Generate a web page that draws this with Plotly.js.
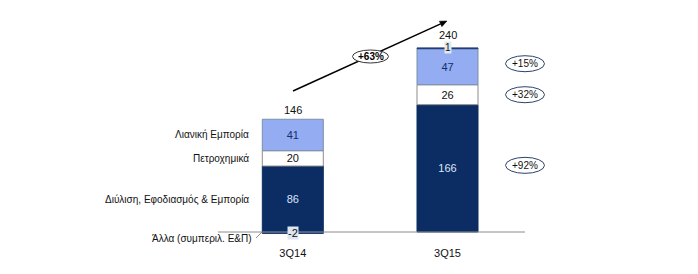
<!DOCTYPE html>
<html><head><meta charset="utf-8">
<script src="https://cdn.plot.ly/plotly-3.0.1.min.js"></script>
<style>body{margin:0;background:#fff}#c{width:698px;height:274px}</style>
</head><body><div id="c"></div>
<script>
const periods = ['3Q14', '3Q15'];
const segments = ['Διύλιση, Εφοδιασμός & Εμπορία', 'Πετροχημικά', 'Λιανική Εμπορία', 'Άλλα (συμπεριλ. Ε&Π)'];
const refining = [86, 166];
const petchem = [20, 26];
const retail = [41, 47];
const other = [-2, 1];
const totals = ['146', '240'];
const growthLabels = ['+92%', '+32%', '+15%'];
const totalGrowth = '+63%';

const FONT = 'Liberation Sans, Arial, sans-serif';
const navy = '#0b2d63';
const light = '#93acf2';
const W = 698, H = 274;
const mB = 29, plotH = H - mB;
const base = 232, ppu = 0.767;
const c0 = 292.8, c1 = 447.5, ppx = c1 - c0;
const yr = [-(plotH - base) / ppu, base / ppu];
const xr = [-c0 / ppx, (W - c0) / ppx];
const px = x => x / W, py = y => 1 - y / plotH;

function bar(name, y, color, txtColor, lineColor) {
  return {
    type: 'bar', x: periods, y: y, name: name, width: 61 / ppx,
    marker: {color: color, line: {color: lineColor, width: 1}},
    text: y.map(String), textposition: 'inside', insidetextanchor: 'middle',
    constraintext: 'none', textfont: {family: FONT, size: 11, color: txtColor},
    hoverinfo: 'none'
  };
}
const traces = [
  bar(segments[0], refining, navy, '#dbe6fb', navy),
  bar(segments[1], petchem, '#ffffff', '#111111', '#8c8c8c'),
  bar(segments[2], retail, light, '#14306a', '#7d8ea8'),
  Object.assign(bar(segments[3], other, '#1d3c72', '#000', '#1d3c72'), {text: ['', ''], textposition: 'none'})
];

const annotations = [];
const shapes = [];
function ann(o) { annotations.push(Object.assign({showarrow: false, xanchor: 'center', yanchor: 'middle'}, o)); }
// totals
periods.forEach((p, i) => {
  const top = refining[i] + petchem[i] + retail[i] + Math.max(other[i], 0);
  ann({x: p, y: top, text: totals[i], yanchor: 'bottom', yshift: i === 0 ? 1 : 5,
    font: {family: FONT, size: 11, color: '#111'}});
});
// "other" labels in small boxes
ann({x: periods[0], y: other[0], text: String(other[0]), yshift: 1,
  bgcolor: '#dde5f1', borderpad: 0, font: {family: FONT, size: 11, color: '#111'}});
ann({x: periods[1], y: refining[1] + petchem[1] + retail[1] + other[1], text: String(other[1]),
  bgcolor: '#e3e8ef', borderpad: 0, font: {family: FONT, size: 10, color: '#111'}});
// left category labels at 3Q14 segment midpoints
const mids0 = [refining[0] / 2, refining[0] + petchem[0] / 2, refining[0] + petchem[0] + retail[0] / 2];
[0, 1, 2].forEach(k => {
  ann({xref: 'paper', x: px(251), y: mids0[k], text: segments[k], xanchor: 'right',
    font: {family: FONT, size: 10, color: '#111'}});
});
ann({xref: 'paper', x: px(254), y: other[0], text: segments[3], xanchor: 'right', yshift: -5,
  font: {family: FONT, size: 10, color: '#111'}});
// growth ellipses right of 3Q15
const mids1 = [refining[1] / 2, refining[1] + petchem[1] / 2, refining[1] + petchem[1] + retail[1] / 2];
const gShift = [3, 0, 3];
[0, 1, 2].forEach(k => {
  ann({xref: 'paper', x: px(525), y: mids1[k], yshift: gShift[k], text: growthLabels[k],
    font: {family: FONT, size: 10, color: '#111'}});
  shapes.push({type: 'circle', xref: 'paper', yref: 'y', xsizemode: 'pixel', ysizemode: 'pixel',
    xanchor: px(525), yanchor: mids1[k], x0: -19.5, x1: 19.5, y0: -8 + gShift[k], y1: 8 + gShift[k],
    line: {color: '#2b4270', width: 1}, fillcolor: 'rgba(0,0,0,0)'});
});
// overall growth arrow (line + head), with ellipse on top
const A = [293, 91], B = [447, 21];
const dx = B[0] - A[0], dy = B[1] - A[1], L = Math.hypot(dx, dy);
const ux = dx / L, uy = dy / L, nx = -uy, ny = ux, hl = 7, hw = 3;
const bx = B[0] - hl * ux, by = B[1] - hl * uy;
shapes.push({type: 'line', xref: 'paper', yref: 'paper', x0: px(A[0]), y0: py(A[1]), x1: px(bx), y1: py(by),
  line: {color: '#000', width: 1.5}, layer: 'above'});
shapes.push({type: 'path', xref: 'paper', yref: 'paper', layer: 'above', fillcolor: '#000', line: {color: '#000', width: 0.5},
  path: `M${px(B[0])},${py(B[1])} L${px(bx + hw * nx)},${py(by + hw * ny)} L${px(bx - hw * nx)},${py(by - hw * ny)} Z`});
shapes.push({type: 'circle', xref: 'paper', yref: 'paper', x0: px(352.5), x1: px(388.5), y0: py(63), y1: py(50),
  line: {color: '#333', width: 1}, fillcolor: '#ffffff', layer: 'above'});
ann({xref: 'paper', yref: 'paper', x: px(370.5), y: py(56.5), text: '<b>' + totalGrowth + '</b>',
  font: {family: FONT, size: 10, color: '#000'}});
// baseline
shapes.push({type: 'line', xref: 'paper', yref: 'y', x0: px(218), x1: px(525), y0: 0, y1: 0, line: {color: '#8c8c8c', width: 1}});
// leader line for "other"
shapes.push({type: 'line', xref: 'paper', yref: 'y', x0: px(256), x1: px(262), y0: -6 / ppu, y1: 0, line: {color: '#8c8c8c', width: 1}});

const layout = {
  width: W, height: H, barmode: 'relative', bargap: 0,
  margin: {l: 0, r: 0, t: 0, b: mB, pad: 0},
  paper_bgcolor: '#fff', plot_bgcolor: '#fff', showlegend: false,
  xaxis: {type: 'category', range: xr, showgrid: false, zeroline: false, showline: false, ticks: '',
    tickfont: {family: FONT, size: 11, color: '#111'}, fixedrange: true},
  yaxis: {range: yr, visible: false, showgrid: false, zeroline: false, fixedrange: true},
  annotations: annotations, shapes: shapes
};
Plotly.newPlot('c', traces, layout, {staticPlot: true, displayModeBar: false});
</script></body></html>
